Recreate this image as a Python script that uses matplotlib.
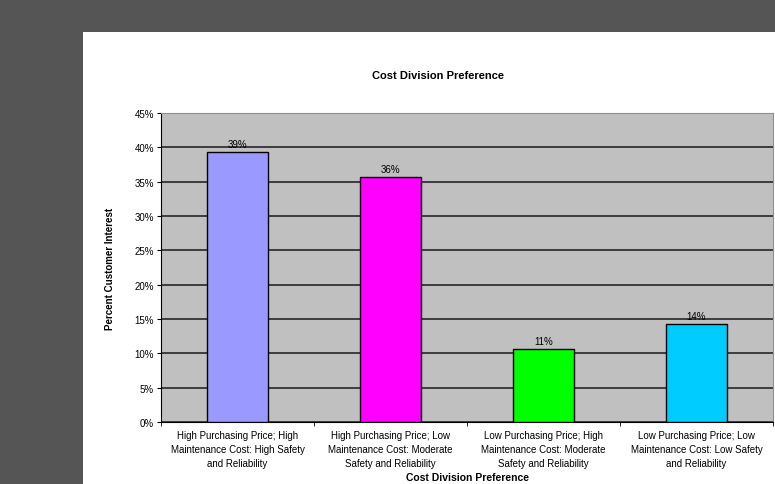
import matplotlib.pyplot as plt
from matplotlib.patches import Rectangle
from matplotlib.ticker import FuncFormatter, MultipleLocator
import numpy as np

plt.rcParams["font.family"] = ["Liberation Sans", "DejaVu Sans"]

CATEGORIES = [
    "High Purchasing Price; High\nMaintenance Cost: High Safety\nand Reliability",
    "High Purchasing Price; Low\nMaintenance Cost: Moderate\nSafety and Reliability",
    "Low Purchasing Price; High\nMaintenance Cost: Moderate\nSafety and Reliability",
    "Low Purchasing Price; Low\nMaintenance Cost: Low Safety\nand Reliability",
]
INTEREST = [0.393, 0.357, 0.106, 0.143]
BAR_LABELS = ["39%", "36%", "11%", "14%"]
BAR_COLORS = ["#9999ff", "#ff00ff", "#00ff00", "#00ccff"]

W, H = 775, 485
fig = plt.figure(figsize=(W / 100, H / 100), dpi=100)
fig.patch.set_facecolor("#555555")
fig.patches.append(Rectangle((83 / W, 0), 1 - 83 / W, (H - 33) / H,
                             transform=fig.transFigure, facecolor="white",
                             edgecolor="none", zorder=-10))

ax = fig.add_axes([161 / W, (H - 423) / H, (773 - 161) / W, (423 - 114) / H])
ax.set_facecolor("#c0c0c0")

x = np.arange(len(CATEGORIES))
ax.bar(x, INTEREST, width=0.4, color=BAR_COLORS, edgecolor="black", lw=1, zorder=3)
for xi, v, lab in zip(x, INTEREST, BAR_LABELS):
    ax.text(xi, v + 0.004, lab, ha="center", va="bottom", fontsize=7, zorder=4)

ax.set_xlim(-0.5, len(CATEGORIES) - 0.5)
ax.set_ylim(0, 0.45)
ax.yaxis.set_major_locator(MultipleLocator(0.05))
ax.yaxis.set_major_formatter(FuncFormatter(lambda v, _: f"{v * 100:.0f}%"))
ax.grid(axis="y", color="#1a1a1a", lw=1.1, zorder=1)

ax.set_xticks(x)
ax.set_xticklabels(CATEGORIES, fontsize=7, linespacing=1.5)
ax.set_xticks(np.arange(-0.5, len(CATEGORIES)), minor=True)
ax.tick_params(axis="x", which="major", length=0, pad=6)
ax.tick_params(axis="x", which="minor", length=3, color="black")
ax.tick_params(axis="y", length=3, labelsize=7, pad=2)

for side in ("top", "right"):
    ax.spines[side].set_color("#909090")
for side in ("left", "bottom"):
    ax.spines[side].set_color("black")

ax.set_ylabel("Percent Customer Interest", fontsize=7, fontweight="bold", labelpad=14)
ax.set_xlabel("Cost Division Preference", fontsize=7.5, fontweight="bold", labelpad=3)
fig.text(438 / W, 1 - 76 / H, "Cost Division Preference", ha="center", va="center",
         fontsize=8, fontweight="bold")

fig.savefig("out.png", dpi=100, facecolor=fig.get_facecolor())
